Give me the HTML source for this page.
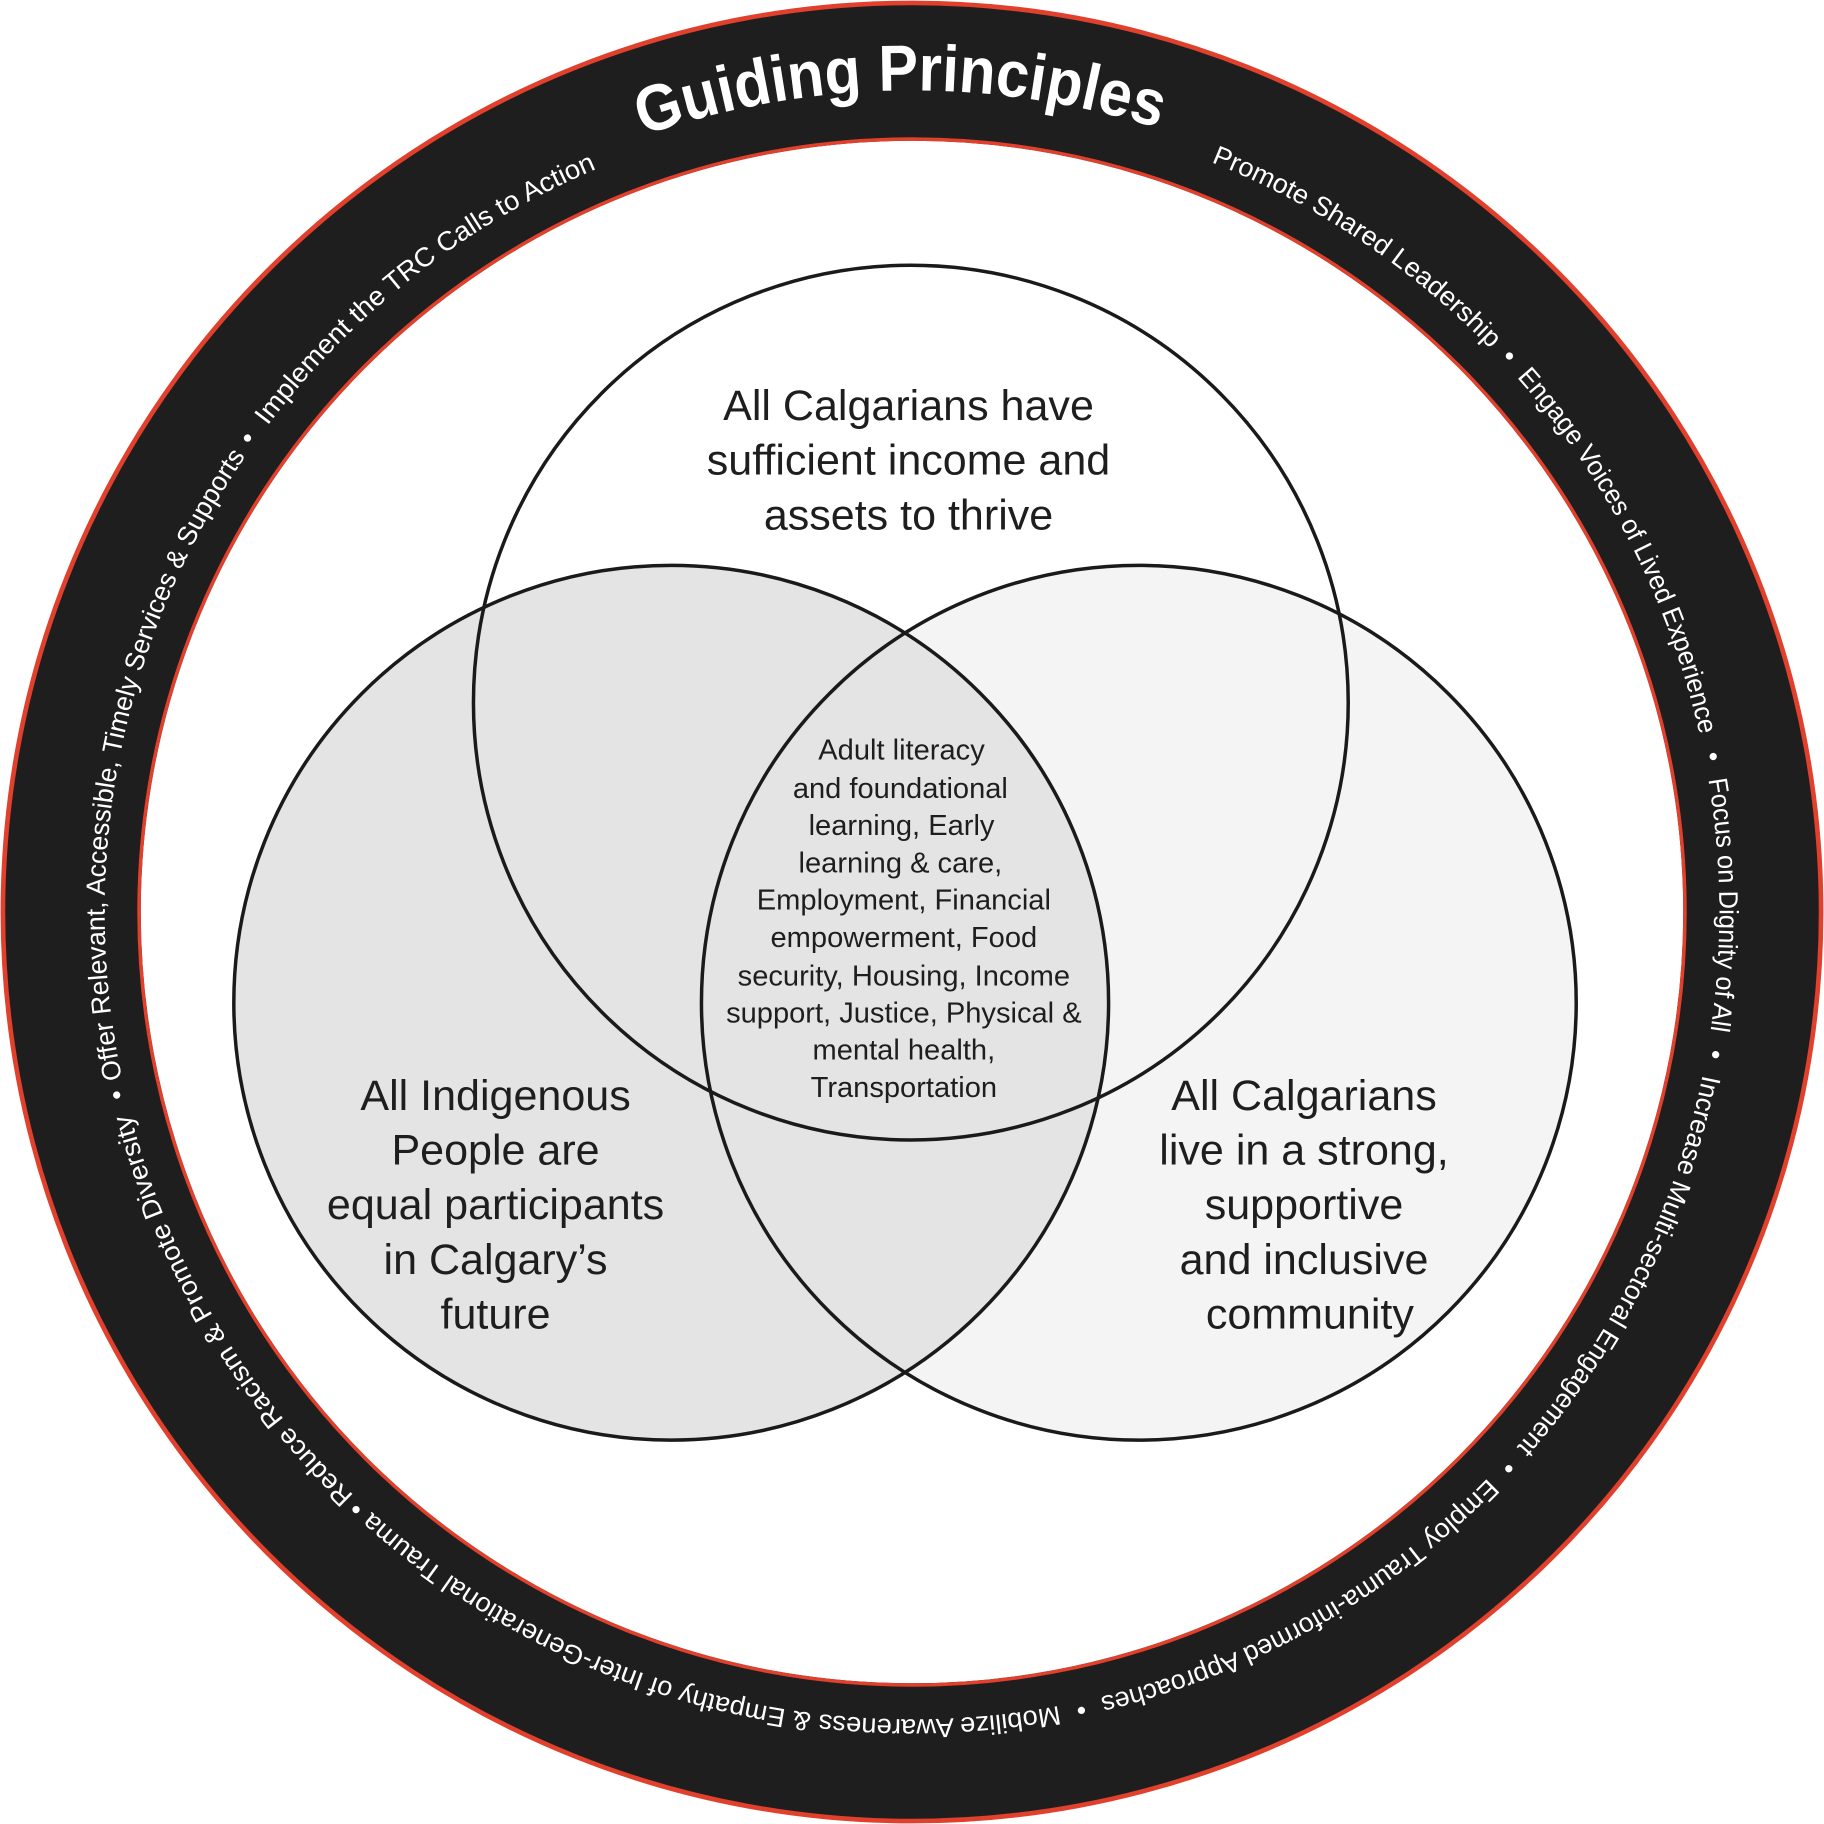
<!DOCTYPE html>
<html><head><meta charset="utf-8"><style>
html,body{margin:0;padding:0;background:#fff;}
svg{display:block;}
text{font-family:"Liberation Sans",sans-serif;}
</style></head><body>
<svg width="1824" height="1824" viewBox="0 0 1568 1568" xmlns="http://www.w3.org/2000/svg">
<defs>
<path id="ring" d="M784,1478 A694,694 0 1 1 784,90 A694,694 0 1 1 784,1478 A694,694 0 1 1 784,90 A694,694 0 1 1 784,1478"/>
<path id="title" d="M78,784 A706,706 0 1 1 1490,784"/>
</defs>
<rect width="1568" height="1568" fill="#fff"/>
<circle cx="784" cy="784" r="723" fill="none" stroke="#1e1e1e" stroke-width="120"/>
<circle cx="784" cy="784" r="781.5" fill="none" stroke="#e0402c" stroke-width="4"/>
<circle cx="784" cy="784" r="664.5" fill="none" stroke="#e0402c" stroke-width="3"/>

<text font-size="56" font-weight="bold" fill="#fff"><textPath href="#title" startOffset="1099" text-anchor="middle" textLength="451" lengthAdjust="spacingAndGlyphs">Guiding Principles</textPath></text>

<g font-size="23" fill="#fff">
<text><textPath href="#ring" startOffset="520" text-anchor="middle">•</textPath></text>
<text><textPath href="#ring" startOffset="722" text-anchor="middle" textLength="385" lengthAdjust="spacingAndGlyphs">Reduce Racism &amp; Promote Diversity</textPath></text>
<text><textPath href="#ring" startOffset="933" text-anchor="middle">•</textPath></text>
<text><textPath href="#ring" startOffset="1226" text-anchor="middle" textLength="561" lengthAdjust="spacingAndGlyphs">Offer Relevant, Accessible, Timely Services &amp; Supports</textPath></text>
<text><textPath href="#ring" startOffset="1520" text-anchor="middle">•</textPath></text>
<text><textPath href="#ring" startOffset="1720" text-anchor="middle" textLength="363" lengthAdjust="spacingAndGlyphs">Implement the TRC Calls to Action</textPath></text>
<text><textPath href="#ring" startOffset="2589" text-anchor="middle" textLength="291" lengthAdjust="spacingAndGlyphs">Promote Shared Leadership</textPath></text>
<text><textPath href="#ring" startOffset="2750" text-anchor="middle">•</textPath></text>
<text><textPath href="#ring" startOffset="2942" text-anchor="middle" textLength="349" lengthAdjust="spacingAndGlyphs">Engage Voices of Lived Experience</textPath></text>
<text><textPath href="#ring" startOffset="3137" text-anchor="middle">•</textPath></text>
<text><textPath href="#ring" startOffset="3264" text-anchor="middle" textLength="217" lengthAdjust="spacingAndGlyphs">Focus on Dignity of All</textPath></text>
<text><textPath href="#ring" startOffset="3392" text-anchor="middle">•</textPath></text>
<text><textPath href="#ring" startOffset="3592" text-anchor="middle" textLength="362" lengthAdjust="spacingAndGlyphs">Increase Multi-sectoral Engagement</textPath></text>
<text><textPath href="#ring" startOffset="3791" text-anchor="middle">•</textPath></text>
<text><textPath href="#ring" startOffset="4003" text-anchor="middle" textLength="388" lengthAdjust="spacingAndGlyphs">Employ Trauma-informed Approaches</textPath></text>
<text><textPath href="#ring" startOffset="4215" text-anchor="middle">•</textPath></text>
<text><textPath href="#ring" startOffset="4551" text-anchor="middle" textLength="636" lengthAdjust="spacingAndGlyphs">Mobilize Awareness &amp; Empathy of Inter-Generational Trauma</textPath></text>
</g>

<circle cx="979" cy="862" r="376" fill="#f4f4f4"/>
<circle cx="577" cy="862" r="376" fill="#e3e4e3"/>
<g fill="none" stroke="#1a1a1a" stroke-width="3">
<circle cx="783" cy="604" r="376"/>
<circle cx="577" cy="862" r="376"/>
<circle cx="979" cy="862" r="376"/>
</g>

<g font-size="37" fill="#1e1e1e" text-anchor="middle">
<text x="781" y="361">All Calgarians have</text>
<text x="781" y="408">sufficient income and</text>
<text x="781" y="455">assets to thrive</text>
<text x="426" y="954">All Indigenous</text>
<text x="426" y="1001">People are</text>
<text x="426" y="1048">equal participants</text>
<text x="426" y="1095">in Calgary’s</text>
<text x="426" y="1142">future</text>
<text x="1121" y="954">All Calgarians</text>
<text x="1121" y="1001">live in a strong,</text>
<text x="1121" y="1048">supportive</text>
<text x="1121" y="1095">and inclusive</text>
<text x="1126" y="1142">community</text>
</g>
<g font-size="25" fill="#1e1e1e" text-anchor="middle">
<text x="775" y="653">Adult literacy</text>
<text x="774" y="686">and foundational</text>
<text x="775" y="718">learning, Early</text>
<text x="774" y="750">learning &amp; care,</text>
<text x="777" y="782">Employment, Financial</text>
<text x="777" y="814">empowerment, Food</text>
<text x="777" y="847">security, Housing, Income</text>
<text x="777" y="879">support, Justice, Physical &amp;</text>
<text x="777" y="911">mental health,</text>
<text x="777" y="943">Transportation</text>
</g>
</svg>
</body></html>
